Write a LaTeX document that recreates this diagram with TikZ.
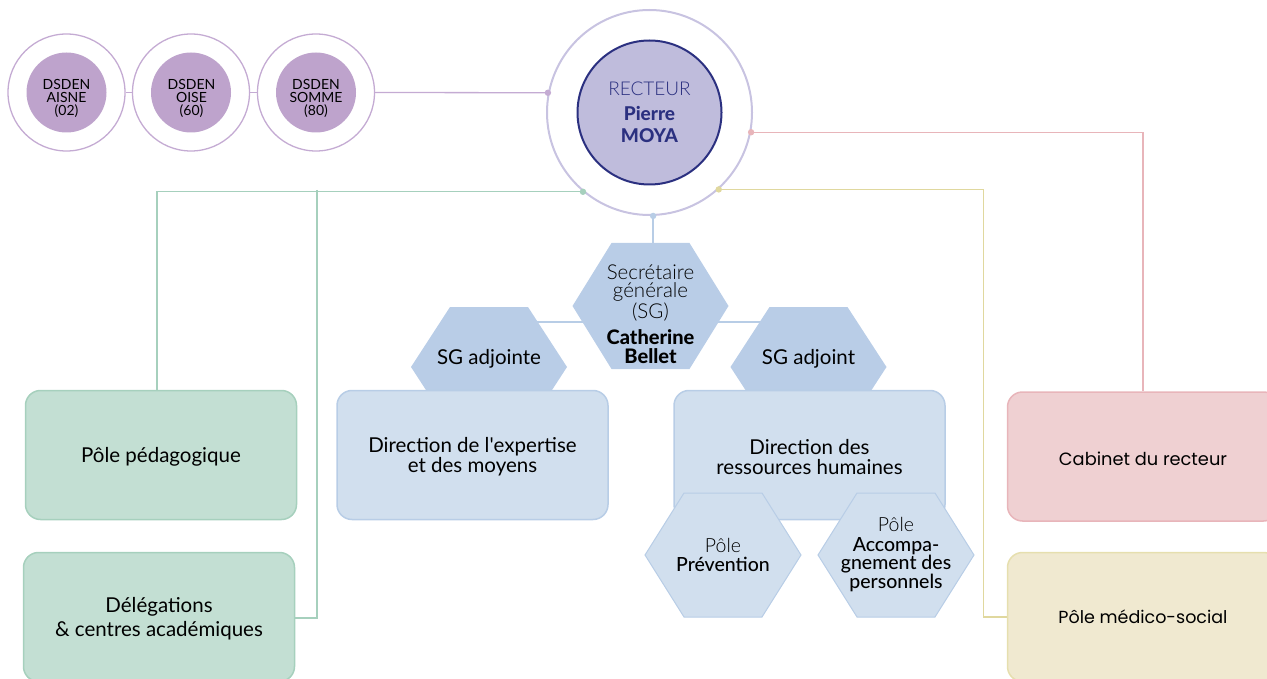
\documentclass[tikz,border=0pt]{standalone}
\usepackage{fontspec}
\setmainfont{Lato}
\newfontfamily\lightf{Lato Light}
\newfontfamily\medf{Lato Medium}
\newfontfamily\heavyf{Lato Heavy}
\newfontfamily\popf{Poppins}
\usetikzlibrary{calc,backgrounds}
\pgfdeclarelayer{hexlow}
\pgfsetlayers{background,main,hexlow}
\definecolor{dsfill}{HTML}{BEA3CC}
\definecolor{dsring}{HTML}{C4ABD3}
\definecolor{recfill}{HTML}{BFBCDC}
\definecolor{recbord}{HTML}{2B3080}
\definecolor{recring}{HTML}{C8C3E1}
\definecolor{grfill}{HTML}{C3DFD3}
\definecolor{grbord}{HTML}{A6D0BD}
\definecolor{blfill}{HTML}{D1DFEE}
\definecolor{blbord}{HTML}{B8CDE6}
\definecolor{hexfill}{HTML}{B9CDE7}
\definecolor{pkfill}{HTML}{EFD0D2}
\definecolor{pkbord}{HTML}{E8B5BA}
\definecolor{ylfill}{HTML}{F0E9D0}
\definecolor{ylbord}{HTML}{E6DFAE}
\definecolor{ylline}{HTML}{E0D89E}
\newcommand{\hexpath}[4]{\path[#1] (#2-78,#3) -- (#2-39,#3-#4) -- (#2+39,#3-#4) -- (#2+78,#3) -- (#2+39,#3+#4) -- (#2-39,#3+#4) -- cycle;}
\newcommand{\dn}{\rule{0pt}{19pt}}
\tikzset{
  box/.style={rounded corners=15pt, minimum width=271pt, minimum height=129pt,
    line width=1.5pt, align=center, inner sep=0pt, font=\fontsize{20.5}{19.5}\selectfont},
  ring/.style={circle, draw=dsring, line width=1.3pt, minimum size=117pt, inner sep=0pt},
  dsden/.style={align=center, inner sep=0pt, font=\fontsize{14}{13}\selectfont},
  hextext/.style={align=center, inner sep=0pt, font=\fontsize{20.5}{18.5}\selectfont},
  conn/.style={line width=1.3pt},
  dot/.style={radius=3.2pt}
}
\begin{document}
\begin{tikzpicture}[x=1pt,y=-1pt]
\useasboundingbox (0,0) rectangle (1267,679);
% DSDEN
\node[ring] (aisneR) at (66.5,92.5) {};
\node[ring] (oiseR) at (191,92.5) {};
\node[ring] (sommeR) at (316,92.5) {};
\fill[dsfill] (aisneR) circle (40pt);
\fill[dsfill] (oiseR) circle (40pt);
\fill[dsfill] (sommeR) circle (40pt);
\node[dsden] (aisne) at (66.5,98) {DSDEN\\AISNE\\(02)};
\node[dsden] (oise) at (191.5,98) {DSDEN\\OISE\\(60)};
\node[dsden] (somme) at (316,98) {DSDEN\\SOMME\\(80)};
% Recteur
\node[circle, draw=recring, line width=2pt, minimum size=205pt, inner sep=0pt] (ro) at (649.5,112.5) {};
\node[circle, draw=recbord, fill=recfill, line width=2pt, minimum size=144pt, inner sep=0pt,
  align=center, text=recbord, font=\fontsize{19}{22}\selectfont] (rec) at (649.5,112.5)
  {{\lightf RECTEUR}\\[3pt]{\heavyf Pierre}\\{\heavyf MOYA}};
% Boxes
\node[box, fill=grfill, draw=grbord] (ped) at (161,455) {\dn Pôle pédagogique};
\node[box, fill=grfill, draw=grbord, font=\fontsize{20.5}{24.5}\selectfont] (dele) at (159,617) {\dn Délégations\\\& centres académiques};
\node[box, fill=blfill, draw=blbord] (dem) at (472.5,455) {\dn Direction de l\textquotesingle expertise\\et des moyens};
\node[box, fill=blfill, draw=blbord] (drh) at (809.5,455) {\dn Direction des\\ressources humaines};
\node[box, fill=pkfill, draw=pkbord, font=\popf\fontsize{17.8}{20}\selectfont] (cab) at (1143,456.5) {\dn Cabinet du recteur};
\node[box, fill=ylfill, draw=ylbord, font=\popf\fontsize{17.5}{20}\selectfont] (med) at (1143,617) {Pôle médico-social};
% upper hexagon texts
\node[hextext] (sg) at (650.5,314) {{\lightf Secrétaire}\\{\lightf générale}\\{\lightf (SG)}\\[8pt]{\fontsize{20}{18.5}\selectfont\heavyf Catherine}\\{\fontsize{20}{18.5}\selectfont\heavyf Bellet}};
\node[hextext] (sga) at (489,357) {\dn SG adjointe};
\node[hextext] (sgb) at (808.5,357) {\dn SG adjoint};
% connectors
\begin{scope}[on background layer]
  \draw[conn, draw=dsring] (aisneR.east) -- (oiseR.west);
  \draw[conn, draw=dsring] (oiseR.east) -- (sommeR.west);
  \draw[conn, draw=dsring] (sommeR.east) -- (ro.169);
  \draw[conn, draw=pkbord] (ro.-11) -| (cab.north);
  \draw[conn, draw=ylline] (ro.-48) -| ([xshift=-23pt]med.west) -- (med.west);
  \draw[conn, draw=grbord] (ro.-130) -| ([xshift=-4pt]ped.north);
  \coordinate (gj) at (317,190);
  \draw[conn, draw=grbord] (gj) |- ([yshift=-1pt]dele.east);
  \draw[conn, draw=blbord] (ro.-88) -- (ro.-88 |- sg.center);
  \draw[conn, draw=blbord] ($(sga)+(0,-35)$) -- ($(sgb)+(0,-35)$);
  \hexpath{fill=hexfill}{650.5}{306}{63}
  \hexpath{fill=hexfill}{489}{367}{60}
  \hexpath{fill=hexfill}{808.5}{367}{60}
\end{scope}
% dots
\fill[dsring] (ro.169) circle[dot];
\fill[pkbord] (ro.-11) circle[dot];
\fill[ylline] (ro.-48) circle[dot];
\fill[grbord] (ro.-130) circle[dot];
\fill[blbord] (ro.-88) circle[dot];
% lower hexagons
\begin{pgfonlayer}{hexlow}
  \hexpath{fill=blfill, draw=blbord, line width=1pt}{723}{555}{62}
  \hexpath{fill=blfill, draw=blbord, line width=1pt}{896}{555}{62}
  \node[hextext, font=\fontsize{19.5}{18.5}\selectfont] (prev) at (723,555) {{\lightf Pôle}\\\medf Prévention};
  \node[hextext, font=\fontsize{19.5}{18.5}\selectfont] (acc) at (896,554.5) {{\lightf Pôle}\\[1.5pt]\medf Accompa-\\\medf gnement des\\\medf personnels};
\end{pgfonlayer}
\end{tikzpicture}
\end{document}
